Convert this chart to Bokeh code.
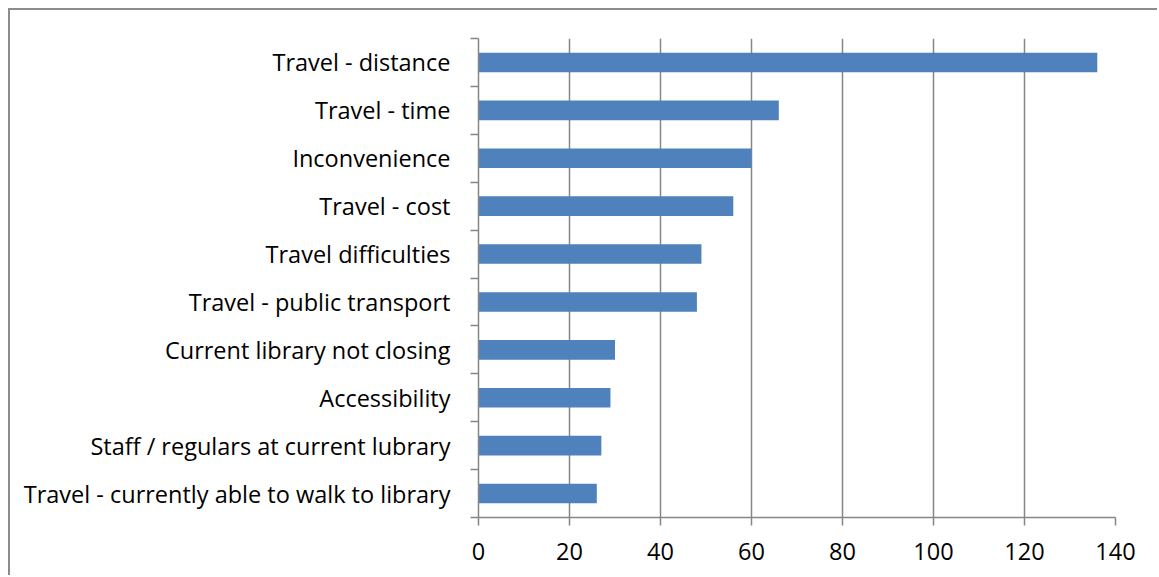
from bokeh.plotting import figure
from bokeh.models import FixedTicker, Range1d, ColumnDataSource, Spacer
from bokeh.layouts import row, column
from bokeh.embed import file_html
from bokeh.resources import INLINE

categories = [
    "Travel - distance",
    "Travel - time",
    "Inconvenience",
    "Travel - cost",
    "Travel difficulties",
    "Travel - public transport",
    "Current library not closing",
    "Accessibility",
    "Staff / regulars at current lubrary",
    "Travel - currently able to walk to library",
]
values = [136, 66, 60, 56, 49, 48, 30, 29, 27, 26]
x_ticks = [0, 20, 40, 60, 80, 100, 120, 140]

n = len(categories)
pos = [n - i - 0.5 for i in range(n)]
src = ColumnDataSource(dict(y=pos, v=values, cat=categories))

FONT = "Open Sans"
GRAY = "#868686"
FS = "23.5px"

p = figure(width=1149, height=567, output_backend="svg", toolbar_location=None,
           x_range=Range1d(0, 140), y_range=Range1d(0, n),
           min_border_left=468, min_border_right=44, min_border_top=28, min_border_bottom=60)
p.styles = {"border-top": "2px solid #8c8c8c", "border-left": "2px solid #8c8c8c"}
p.outline_line_color = None
p.background_fill_color = "white"

p.hbar(y="y", right="v", left=0, height=0.41, source=src, fill_color="#4F81BD", line_color=None)

# x axis
xa = p.xaxis[0]
xa.ticker = FixedTicker(ticks=x_ticks)
xa.axis_line_color = GRAY
xa.axis_line_width = 1.5
xa.major_tick_line_color = GRAY
xa.major_tick_line_width = 1.5
xa.major_tick_out = 8
xa.major_tick_in = 0
xa.minor_tick_line_color = None
xa.major_label_standoff = 17
xa.major_label_text_font = FONT
xa.major_label_text_font_size = FS
xa.major_label_text_color = "black"

# y axis
ya = p.yaxis[0]
ya.ticker = FixedTicker(ticks=pos, minor_ticks=list(range(n + 1)))
ya.major_label_overrides = {pv: c for pv, c in zip(pos, categories)}
ya.axis_line_color = GRAY
ya.axis_line_width = 1.5
ya.major_tick_out = 0
ya.major_tick_in = 0
ya.major_tick_line_color = None
ya.minor_tick_line_color = GRAY
ya.minor_tick_line_width = 1.5
ya.minor_tick_out = 8
ya.minor_tick_in = 0
ya.major_label_standoff = 20
ya.major_label_text_font = FONT
ya.major_label_text_font_size = FS
ya.major_label_text_color = "black"

p.xgrid.ticker = FixedTicker(ticks=x_ticks)
p.xgrid.grid_line_color = GRAY
p.xgrid.grid_line_width = 1.5
p.ygrid.grid_line_color = None

layout = row(Spacer(width=8), column(Spacer(height=8), p))
open("out.html", "w").write(file_html(layout, INLINE))
